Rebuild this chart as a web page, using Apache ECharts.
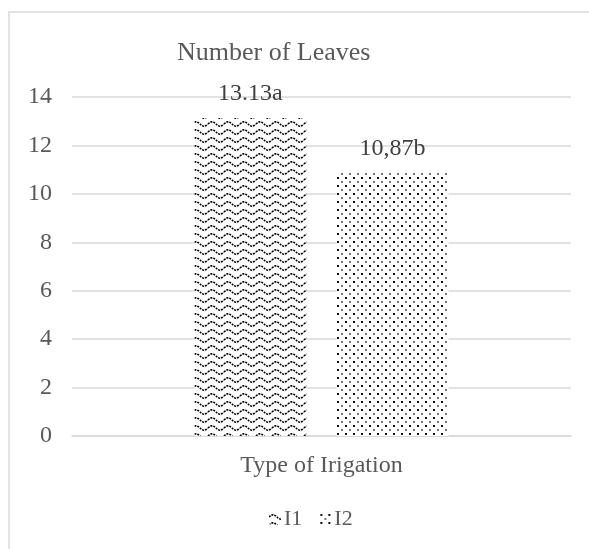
<!DOCTYPE html>
<html>
<head>
<meta charset="utf-8">
<script src="https://cdn.jsdelivr.net/npm/echarts@6/dist/echarts.min.js"></script>
<style>
  html, body { margin: 0; padding: 0; background: #fff; }
  #main { width: 589px; height: 549px; }
</style>
</head>
<body>
<div id="main"></div>
<script>
// data
var categories = ['Type of Irigation'];
var seriesNames = ['I1', 'I2'];
var valuesI1 = [13.13];
var valuesI2 = [10.87];
var labelsI1 = ['13.13a'];
var labelsI2 = ['10,87b'];
var yTicks = [0, 2, 4, 6, 8, 10, 12, 14];

// wavy pattern for I1
function wavePattern() {
    var c = document.createElement('canvas');
    c.width = 16; c.height = 8;
    var ctx = c.getContext('2d');
    ctx.fillStyle = '#fff';
    ctx.fillRect(0, 0, 16, 8);
    ctx.strokeStyle = '#000';
    ctx.lineWidth = 1.6;
    ctx.setLineDash([2, 1]);
    ctx.beginPath();
    for (var x = 0; x <= 16; x++) {
        var y = 4 - 2.2 * Math.sin(x / 16 * Math.PI * 2);
        if (x === 0) ctx.moveTo(x, y); else ctx.lineTo(x, y);
    }
    ctx.stroke();
    return c;
}
// dotted pattern for I2
function dotPattern() {
    var c = document.createElement('canvas');
    c.width = 8; c.height = 8;
    var ctx = c.getContext('2d');
    ctx.fillStyle = '#fff';
    ctx.fillRect(0, 0, 8, 8);
    ctx.fillStyle = '#111';
    ctx.fillRect(1, 1, 2, 2);
    ctx.fillStyle = '#777';
    ctx.fillRect(5, 5, 2, 2);
    return c;
}

var font = '"Liberation Serif", "Times New Roman", serif';
var myChart = echarts.init(document.getElementById('main'));
var option = {
    backgroundColor: '#fff',
    animation: false,
    graphic: [{
        type: 'rect',
        shape: { x: 9, y: 12, width: 700, height: 700 },
        style: { fill: 'none', stroke: '#d9d9d9', lineWidth: 1.5 },
        silent: true
    }],
    title: {
        text: 'Number of Leaves',
        left: 172,
        top: 35,
        textStyle: { fontFamily: font, fontSize: 26, fontWeight: 'normal', color: '#595959' }
    },
    legend: {
        data: seriesNames,
        left: 264,
        top: 503,
        itemWidth: 12,
        itemHeight: 12,
        itemGap: 17,
        itemStyle: { borderWidth: 0 },
        textStyle: { fontFamily: font, fontSize: 22, color: '#595959', padding: [0, 0, 0, -2] }
    },
    grid: { left: 72, right: 18, top: 97, bottom: 113 },
    xAxis: {
        type: 'category',
        data: categories,
        axisTick: { show: false },
        axisLine: { lineStyle: { color: '#d9d9d9', width: 1.5 } },
        axisLabel: { margin: 18, fontFamily: font, fontSize: 24, color: '#595959' }
    },
    yAxis: {
        type: 'value',
        min: yTicks[0],
        max: yTicks[yTicks.length - 1],
        interval: 2,
        axisLine: { show: false },
        axisTick: { show: false },
        splitLine: { lineStyle: { color: '#d9d9d9', width: 1.5 } },
        axisLabel: { margin: 20, fontFamily: font, fontSize: 24, color: '#595959' }
    },
    series: [
        {
            name: seriesNames[0],
            type: 'bar',
            data: valuesI1,
            barWidth: 112,
            barGap: '27%',
            itemStyle: { color: { image: wavePattern(), repeat: 'repeat' } },
            label: {
                show: true, position: 'top', distance: 12,
                fontFamily: font, fontSize: 24, color: '#404040',
                formatter: function (p) { return labelsI1[p.dataIndex]; }
            }
        },
        {
            name: seriesNames[1],
            type: 'bar',
            data: valuesI2,
            barWidth: 112,
            itemStyle: { color: { image: dotPattern(), repeat: 'repeat' } },
            label: {
                show: true, position: 'top', distance: 12,
                fontFamily: font, fontSize: 24, color: '#404040',
                formatter: function (p) { return labelsI2[p.dataIndex]; }
            }
        }
    ]
};
myChart.setOption(option);
</script>
</body>
</html>
